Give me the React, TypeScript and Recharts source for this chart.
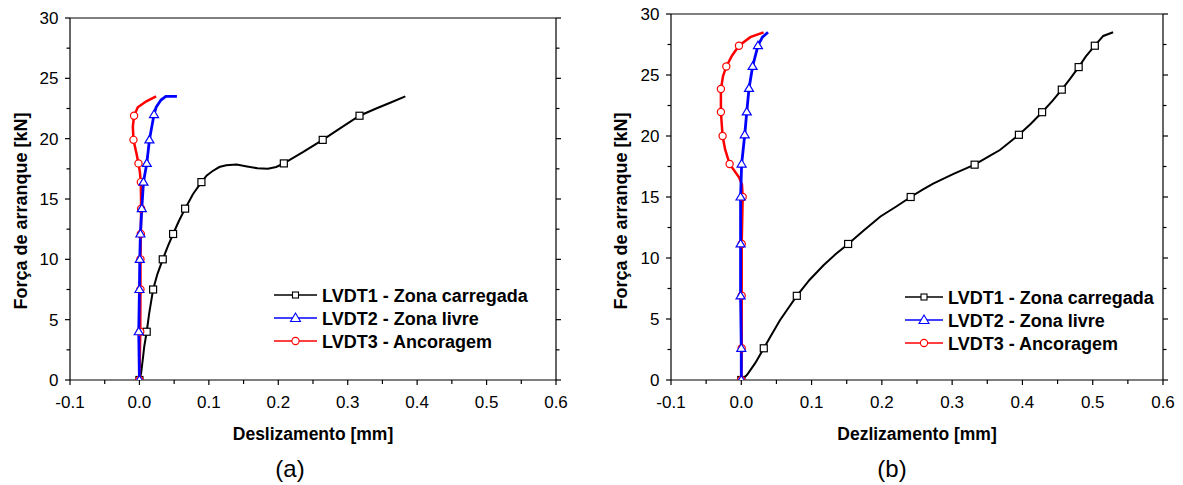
import React from "react";
import { LineChart, Line, XAxis, YAxis, Legend } from "recharts";

type Pt = [number, number, number]; // x (mm), force (kN), 1 = draw marker

// x and y ticks (major ones get labels, the rest are minor ticks)
const xTicks = [-0.1, -0.05, 0, 0.05, 0.1, 0.15, 0.2, 0.25, 0.3, 0.35, 0.4, 0.45, 0.5, 0.55, 0.6];
const yTicks = [0, 2.5, 5, 7.5, 10, 12.5, 15, 17.5, 20, 22.5, 25, 27.5, 30];

const seriesNames = ["LVDT1 - Zona carregada", "LVDT2 - Zona livre", "LVDT3 - Ancoragem"];

// (a)
const aLoaded: Pt[] = [
  [0, 0, 1], [0.0024, 0.55, 0], [0.005, 1.8, 0], [0.007, 2.8, 0], [0.0105, 4.0, 1],
  [0.014, 5.5, 0], [0.0197, 7.5, 1], [0.026, 8.8, 0], [0.0336, 10.0, 1], [0.041, 11.1, 0],
  [0.0485, 12.1, 1], [0.057, 13.2, 0], [0.0658, 14.2, 1], [0.077, 15.4, 0], [0.0893, 16.4, 1],
  [0.097, 16.95, 0], [0.105, 17.3, 0], [0.115, 17.65, 0], [0.125, 17.8, 0], [0.14, 17.85, 0],
  [0.155, 17.7, 0], [0.17, 17.55, 0], [0.185, 17.5, 0], [0.197, 17.65, 0], [0.208, 17.95, 1],
  [0.236, 18.9, 0], [0.264, 19.9, 1], [0.29, 20.9, 0], [0.317, 21.9, 1], [0.341, 22.5, 0],
  [0.362, 23.0, 0], [0.383, 23.5, 0],
];
const aFree: Pt[] = [
  [0, 0, 1], [-0.001, 4.0, 1], [0, 7.5, 1], [0.0005, 10.0, 1], [0.0014, 12.1, 1],
  [0.0034, 14.2, 1], [0.0058, 16.4, 1], [0.0106, 17.95, 1], [0.0144, 19.9, 1], [0.021, 22.0, 1],
  [0.024, 22.6, 0], [0.031, 23.2, 0], [0.038, 23.5, 0], [0.054, 23.5, 0],
];
const aAnchor: Pt[] = [
  [0, 0, 1], [0.0012, 4.0, 1], [0.0015, 7.5, 1], [0.0015, 10.0, 1], [0.002, 12.1, 1],
  [0.0025, 14.2, 1], [0.002, 16.4, 1], [0.0005, 17.3, 0], [-0.0014, 17.95, 1], [-0.004, 18.7, 0],
  [-0.0086, 19.9, 1], [-0.0095, 21.0, 0], [-0.0077, 21.9, 1], [-0.0024, 22.6, 0], [0.01, 23.1, 0],
  [0.024, 23.5, 0],
];

// (b)
const bLoaded: Pt[] = [
  [0, 0, 1], [0.008, 0.4, 0], [0.02, 1.4, 0], [0.032, 2.6, 1], [0.043, 3.7, 0],
  [0.055, 4.9, 0], [0.067, 5.9, 0], [0.079, 6.9, 1], [0.097, 8.2, 0], [0.117, 9.4, 0],
  [0.134, 10.3, 0], [0.152, 11.15, 1], [0.175, 12.3, 0], [0.198, 13.4, 0], [0.22, 14.2, 0],
  [0.241, 15.0, 1], [0.258, 15.6, 0], [0.273, 16.1, 0], [0.302, 16.9, 0], [0.332, 17.65, 1],
  [0.354, 18.4, 0], [0.368, 18.85, 0], [0.395, 20.1, 1], [0.412, 21.0, 0], [0.428, 21.95, 1],
  [0.443, 22.9, 0], [0.456, 23.8, 1], [0.468, 24.7, 0], [0.48, 25.65, 1], [0.49, 26.5, 0],
  [0.503, 27.4, 1], [0.515, 28.2, 0], [0.529, 28.5, 0],
];
const bFree: Pt[] = [
  [0, 0, 1], [0, 2.6, 1], [-0.001, 6.9, 1], [-0.001, 11.15, 1], [-0.001, 15.0, 1],
  [0.0005, 17.7, 1], [0.0049, 20.1, 1], [0.0078, 21.97, 1], [0.011, 23.9, 1], [0.0161, 25.7, 1],
  [0.0237, 27.4, 1], [0.03, 28.1, 0], [0.038, 28.5, 0],
];
const bAnchor: Pt[] = [
  [0, 0, 1], [0.0006, 2.6, 1], [0.0006, 6.9, 1], [0.0006, 11.15, 1], [0.002, 15.0, 1],
  [0.001, 16.0, 0], [-0.003, 16.6, 0], [-0.0166, 17.7, 1], [-0.023, 18.9, 0], [-0.0266, 20.0, 1],
  [-0.029, 21.97, 1], [-0.029, 23.85, 1], [-0.026, 24.9, 0], [-0.0213, 25.7, 1], [-0.013, 26.6, 0],
  [-0.0033, 27.4, 1], [0.0128, 28.1, 0], [0.0317, 28.5, 0],
];

const font = '"Liberation Sans", Arial, Helvetica, sans-serif';
const toRows = (pts: Pt[]) => pts.map(([x, y, m]) => ({ x, y, m }));
const isMajorX = (v: number) => Math.abs(Math.round(v * 10) - v * 10) < 1e-6;
const isMajorY = (v: number) => Math.abs(v % 5) < 1e-6;

const BottomTick = ({ x, y, payload }: any) => {
  const major = isMajorX(payload.value);
  return (
    <g>
      <line x1={x} x2={x} y1={y} y2={y + (major ? 5 : 4)} stroke="#000" strokeWidth={1.2} />
      {major && (
        <text x={x} y={y + 28} textAnchor="middle" fontSize={17} fontFamily={font} fill="#000">
          {payload.value.toFixed(1)}
        </text>
      )}
    </g>
  );
};
const TopTick = ({ x, y, payload }: any) => (
  <line x1={x} x2={x} y1={y} y2={y - (isMajorX(payload.value) ? 5 : 4)} stroke="#000" strokeWidth={1.2} />
);
const LeftTick = ({ x, y, payload }: any) => {
  const major = isMajorY(payload.value);
  return (
    <g>
      <line x1={x} x2={x - (major ? 5 : 3.5)} y1={y} y2={y} stroke="#000" strokeWidth={1.2} />
      {major && (
        <text x={x - 11.5} y={y + 6} textAnchor="end" fontSize={17} fontFamily={font} fill="#000">
          {payload.value}
        </text>
      )}
    </g>
  );
};
const RightTick = ({ x, y, payload }: any) => (
  <line x1={x} x2={x + (isMajorY(payload.value) ? 5 : 3.5)} y1={y} y2={y} stroke="#000" strokeWidth={1.2} />
);

const square = (p: any) =>
  p.payload.m ? (
    <rect key={p.index} x={p.cx - 3.5} y={p.cy - 3.5} width={7} height={7} fill="#fff" stroke="#000" strokeWidth={1.2} />
  ) : (
    <g key={p.index} />
  );
const triangle = (p: any) =>
  p.payload.m ? (
    <polygon key={p.index} points={`${p.cx},${p.cy - 4.5} ${p.cx - 4.5},${p.cy + 3} ${p.cx + 4.5},${p.cy + 3}`}
      fill="#fff" stroke="#0000ff" strokeWidth={1.2} />
  ) : (
    <g key={p.index} />
  );
const circle = (p: any) =>
  p.payload.m ? (
    <circle key={p.index} cx={p.cx} cy={p.cy} r={3.6} fill="#fff" stroke="#ff0000" strokeWidth={1.2} />
  ) : (
    <g key={p.index} />
  );

const legendStyle = [
  { color: "#000", shape: "square" },
  { color: "#0000ff", shape: "triangle" },
  { color: "#ff0000", shape: "circle" },
];

const LegendBox = ({ lineLen }: { lineLen: number }) => (
  <svg width={260} height={72} style={{ display: "block" }}>
    {seriesNames.map((name, i) => {
      const cy = 12 + i * 23;
      const mx = 4 + lineLen / 2;
      const s = legendStyle[i];
      return (
        <g key={name}>
          <line x1={4} x2={4 + lineLen} y1={cy} y2={cy} stroke={s.color} strokeWidth={1.6} />
          {s.shape === "square" && <rect x={mx - 3} y={cy - 3} width={6} height={6} fill="#fff" stroke="#000" strokeWidth={1.1} />}
          {s.shape === "triangle" && (
            <polygon points={`${mx},${cy - 5} ${mx - 5},${cy + 3.5} ${mx + 5},${cy + 3.5}`} fill="#fff" stroke={s.color} strokeWidth={1.1} />
          )}
          {s.shape === "circle" && <circle cx={mx} cy={cy} r={3.6} fill="#fff" stroke={s.color} strokeWidth={1.1} />}
          <text x={lineLen + 9} y={cy + 6.5} fontSize={18} fontWeight="bold" fontFamily={font} fill="#000">
            {name}
          </text>
        </g>
      );
    })}
  </svg>
);

type PanelProps = {
  loaded: Pt[];
  free: Pt[];
  anchor: Pt[];
  width: number;
  margin: { top: number; right: number; bottom: number; left: number };
  topH: number;
  rightW: number;
  legendPos: { left: number; top: number };
  legendLine: number;
};

function Panel({ loaded, free, anchor, width, margin, topH, rightW, legendPos, legendLine }: PanelProps) {
  const axisLine = { stroke: "#000", strokeWidth: 1.2 };
  return (
    <LineChart width={width} height={440} margin={margin}>
      <XAxis xAxisId="b" dataKey="x" type="number" domain={[-0.1, 0.6]} ticks={xTicks} interval={0}
        allowDataOverflow height={50} tickSize={0} tickMargin={0} tickLine={false} tick={<BottomTick />} axisLine={axisLine} />
      <XAxis xAxisId="t" orientation="top" type="number" domain={[-0.1, 0.6]} ticks={xTicks} interval={0}
        allowDataOverflow height={topH} tickSize={0} tickMargin={0} tickLine={false} tick={<TopTick />} axisLine={axisLine} />
      <YAxis yAxisId="l" type="number" domain={[0, 30]} ticks={yTicks} interval={0} allowDataOverflow width={60}
        tickSize={0} tickMargin={0} tickLine={false} tick={<LeftTick />} axisLine={axisLine} />
      <YAxis yAxisId="r" orientation="right" type="number" domain={[0, 30]} ticks={yTicks} interval={0} allowDataOverflow
        width={rightW} tickSize={0} tickMargin={0} tickLine={false} tick={<RightTick />} axisLine={axisLine} />
      <Line xAxisId="b" yAxisId="l" data={toRows(loaded)} dataKey="y" name={seriesNames[0]} type="linear"
        stroke="#000" strokeWidth={2} dot={square} activeDot={false} isAnimationActive={false} />
      <Line xAxisId="b" yAxisId="l" data={toRows(anchor)} dataKey="y" name={seriesNames[2]} type="linear"
        stroke="#ff0000" strokeWidth={2.5} dot={circle} activeDot={false} isAnimationActive={false} />
      <Line xAxisId="b" yAxisId="l" data={toRows(free)} dataKey="y" name={seriesNames[1]} type="linear"
        stroke="#0000ff" strokeWidth={2.8} dot={triangle} activeDot={false} isAnimationActive={false} />
      <Legend layout="horizontal" verticalAlign="middle" align="center"
        wrapperStyle={{ left: legendPos.left, top: legendPos.top, width: 260, height: 72 }}
        content={() => <LegendBox lineLen={legendLine} />} />
    </LineChart>
  );
}

const titleStyle = { fontFamily: font, fill: "#000" };

export default function App() {
  return (
    <div style={{ position: "absolute", left: 0, top: 0, width: 1183, height: 485, background: "#fff" }}>
      <div style={{ position: "absolute", left: 0, top: 0 }}>
        <Panel loaded={aLoaded} free={aFree} anchor={aAnchor} width={600}
          margin={{ top: 8, right: 24, bottom: 10, left: 10 }} topH={10} rightW={20}
          legendPos={{ left: 270, top: 283 }} legendLine={43} />
      </div>
      <div style={{ position: "absolute", left: 600, top: 0 }}>
        <Panel loaded={bLoaded} free={bFree} anchor={bAnchor} width={583}
          margin={{ top: 6, right: 5, bottom: 10, left: 11 }} topH={8} rightW={15}
          legendPos={{ left: 301, top: 285 }} legendLine={38} />
      </div>
      <svg width={1183} height={485} style={{ position: "absolute", left: 0, top: 0, pointerEvents: "none" }}>
        <text transform="translate(26.5,211) rotate(-90)" textAnchor="middle" fontSize={18} fontWeight="bold" {...titleStyle}>
          Força de arranque [kN]
        </text>
        <text transform="translate(627,211) rotate(-90)" textAnchor="middle" fontSize={18} fontWeight="bold" {...titleStyle}>
          Força de arranque [kN]
        </text>
        <text x={313} y={439.5} textAnchor="middle" fontSize={17.5} fontWeight="bold" {...titleStyle}>
          Deslizamento [mm]
        </text>
        <text x={917} y={439.5} textAnchor="middle" fontSize={17.5} fontWeight="bold" {...titleStyle}>
          Dezlizamento [mm]
        </text>
        <text x={290} y={477} textAnchor="middle" fontSize={24} {...titleStyle}>
          (a)
        </text>
        <text x={892} y={477} textAnchor="middle" fontSize={24} {...titleStyle}>
          (b)
        </text>
      </svg>
    </div>
  );
}
